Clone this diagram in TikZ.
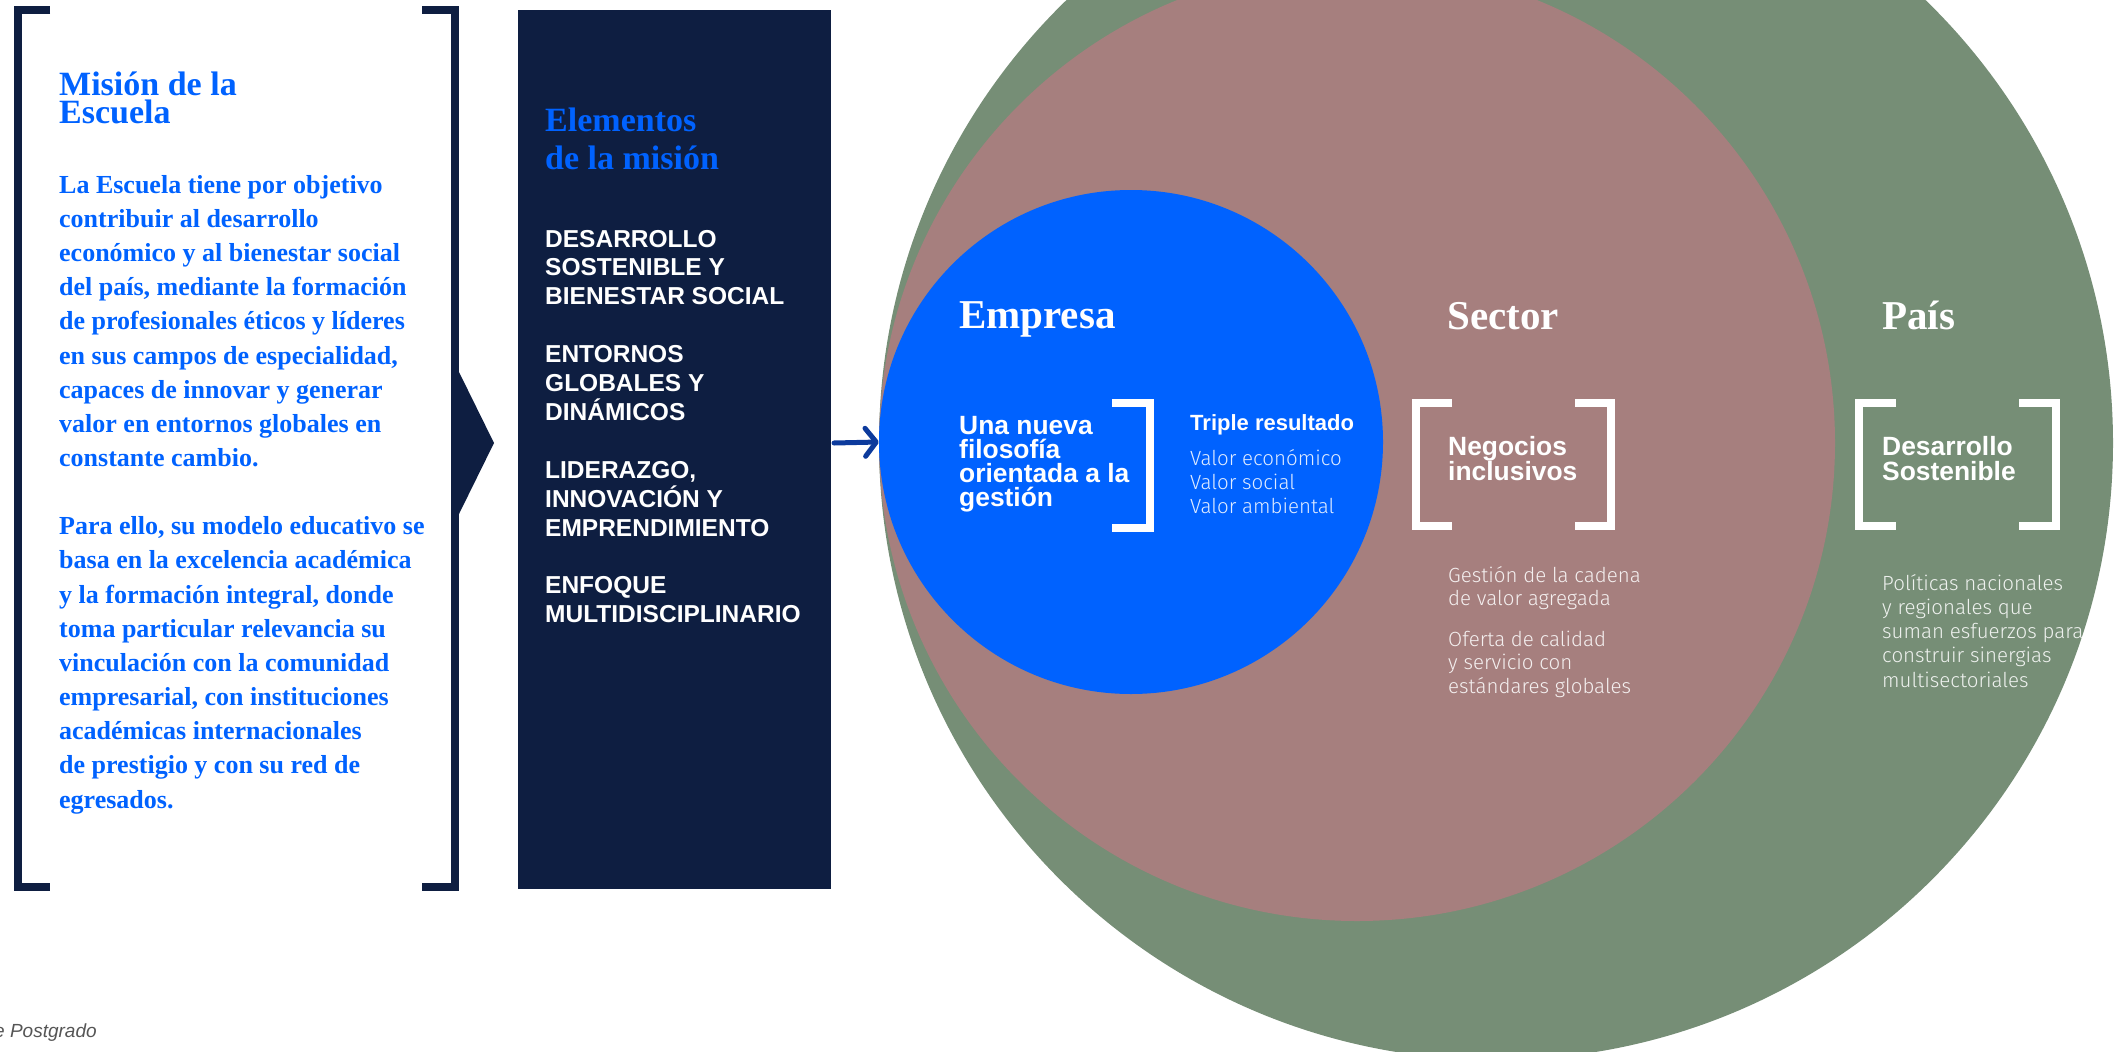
\documentclass[tikz,border=0pt]{standalone}
\usepackage{fontspec}
\setmainfont{Liberation Serif}
\newfontfamily\sansf{Liberation Sans}
\IfFontExistsTF{Fira Sans Light}{\newfontfamily\lightf{Fira Sans Light}}{\newfontfamily\lightf{Liberation Sans}}
\usetikzlibrary{arrows.meta}
\definecolor{navy}{HTML}{0E1E41}
\definecolor{mblue}{HTML}{0062FF}
\definecolor{rosebrown}{HTML}{A67F7E}
\definecolor{sage}{HTML}{768E76}
\definecolor{arrowblue}{HTML}{0C3A9C}
\definecolor{notegray}{HTML}{555555}
\newcommand{\ml}[2]{\vtop{\baselineskip=#1\relax\lineskiplimit=-\maxdimen\halign{##\hfil\cr#2\crcr}}}
\tikzset{
  txt/.style={inner sep=0pt, anchor=base west},
  serifhead/.style={txt, font={\bfseries\fontsize{34}{38}\selectfont}, text=mblue},
  bodytext/.style={txt, font={\bfseries\fontsize{26}{34}\selectfont}, text=mblue},
  itemtext/.style={txt, font={\sansf\bfseries\fontsize{24.5}{29}\selectfont}, text=white},
  circhead/.style={txt, font={\bfseries\fontsize{41}{44}\selectfont}, text=white},
  circbold/.style={txt, font={\sansf\bfseries\fontsize{26.4}{26}\selectfont}, text=white},
  smallbold/.style={txt, font={\sansf\bfseries\fontsize{22}{24}\selectfont}, text=white},
  lighttext/.style={txt, font={\lightf\fontsize{20.5}{24}\selectfont}, text=white, text opacity=0.88},
  navybar/.style={draw=navy, line width=8pt, line join=miter, line cap=butt},
  whitebar/.style={draw=white, line width=8pt, line join=miter, line cap=butt},
  ring/.style={circle, inner sep=0pt, draw=none},
  arr/.style={draw=arrowblue, line width=5pt, line cap=round, -{Straight Barb[length=11pt, width=28pt, round]}}
}
\begin{document}
\begin{tikzpicture}[x=1pt, y=-1pt]
\useasboundingbox (0,0) rectangle (2121,1052);
% circles
\begin{scope}
\clip (0,0) rectangle (2121,1052);
\node[ring, fill=sage, minimum size=1234pt] (pais) at (1496,443) {};
\node[ring, fill=rosebrown, minimum size=956pt] (sector) at (1357,443) {};
\node[ring, fill=mblue, minimum size=504pt] (empresa) at (1131,442) {};
\end{scope}
% left bracketed panel
\draw[navybar] (50,10) -- (18,10) -- (18,887) -- (50,887);
\draw[navybar] (422,10) -- (455,10) -- (455,887) -- (422,887);
\fill[navy] (459,372) -- (494,443) -- (459,514) -- cycle;
\node[serifhead] (misiontitle) at (59,95) {\ml{28pt}{Misión de la\cr Escuela}};
\node[bodytext] (misionbody) at (59,193.3) {\ml{34.15pt}{%
La Escuela tiene por objetivo\cr
contribuir al desarrollo\cr
económico y al bienestar social\cr
del país, mediante la formación\cr
de profesionales éticos y líderes\cr
en sus campos de especialidad,\cr
capaces de innovar y generar\cr
valor en entornos globales en\cr
constante cambio.\cr
\cr
Para ello, su modelo educativo se\cr
basa en la excelencia académica\cr
y la formación integral, donde\cr
toma particular relevancia su\cr
vinculación con la comunidad\cr
empresarial, con instituciones\cr
académicas internacionales\cr
de prestigio y con su red de\cr
egresados.}};
% elements box
\node[fill=navy, inner sep=0pt, minimum width=313pt, minimum height=879pt, anchor=north west] (elembox) at (518,10) {};
\node[serifhead] (elemtitle) at (545,131) {\ml{38pt}{Elementos\cr de la misión}};
\node[itemtext] (elemitems) at (545,247) {\ml{28.9pt}{%
DESARROLLO\cr
SOSTENIBLE Y\cr
BIENESTAR SOCIAL\cr
\cr
ENTORNOS\cr
GLOBALES Y\cr
DINÁMICOS\cr
\cr
LIDERAZGO,\cr
INNOVACIÓN Y\cr
EMPRENDIMIENTO\cr
\cr
ENFOQUE\cr
MULTIDISCIPLINARIO}};
% arrow
\coordinate (arrowstart) at (834,443);
\draw[arr] (arrowstart) -- (empresa.west);
% Empresa
\node[circhead] (empresatitle) at (959,328) {Empresa};
\node[circbold] (filosofia) at (959,434) {\ml{24.3pt}{Una nueva\cr filosofía\cr orientada a la\cr gestión}};
\draw[whitebar] (1112,403) -- (1150,403) -- (1150,528) -- (1112,528);
\node[smallbold] (triple) at (1190,430) {Triple resultado};
\node[lighttext] (valores) at (1190,465) {\ml{24pt}{Valor económico\cr Valor social\cr Valor ambiental}};
% Sector
\node[circhead] (sectortitle) at (1447,329) {Sector};
\draw[whitebar] (1452,403) -- (1416,403) -- (1416,526) -- (1452,526);
\draw[whitebar] (1575,403) -- (1611,403) -- (1611,526) -- (1575,526);
\node[circbold] (negocios) at (1448,455) {\ml{25pt}{Negocios\cr inclusivos}};
\node[lighttext] (gestion) at (1448,582) {\ml{23.5pt}{Gestión de la cadena\cr de valor agregada}};
\node[lighttext] (oferta) at (1448,646) {\ml{23.5pt}{Oferta de calidad\cr y servicio con\cr estándares globales}};
% Pais
\node[circhead] (paistitle) at (1882,329) {País};
\draw[whitebar] (1896,403) -- (1859,403) -- (1859,526) -- (1896,526);
\draw[whitebar] (2019,403) -- (2056,403) -- (2056,526) -- (2019,526);
\node[circbold] (desarrollo) at (1882,455) {\ml{25pt}{Desarrollo\cr Sostenible}};
\node[lighttext] (politicas) at (1882,590) {\ml{24.3pt}{Políticas nacionales\cr y regionales que\cr suman esfuerzos para\cr construir sinergias\cr multisectoriales}};
% footer
\node[txt, font={\sansf\itshape\fontsize{19}{22}\selectfont}, text=notegray] (footer) at (-6,1037) {e Postgrado};
\end{tikzpicture}
\end{document}
